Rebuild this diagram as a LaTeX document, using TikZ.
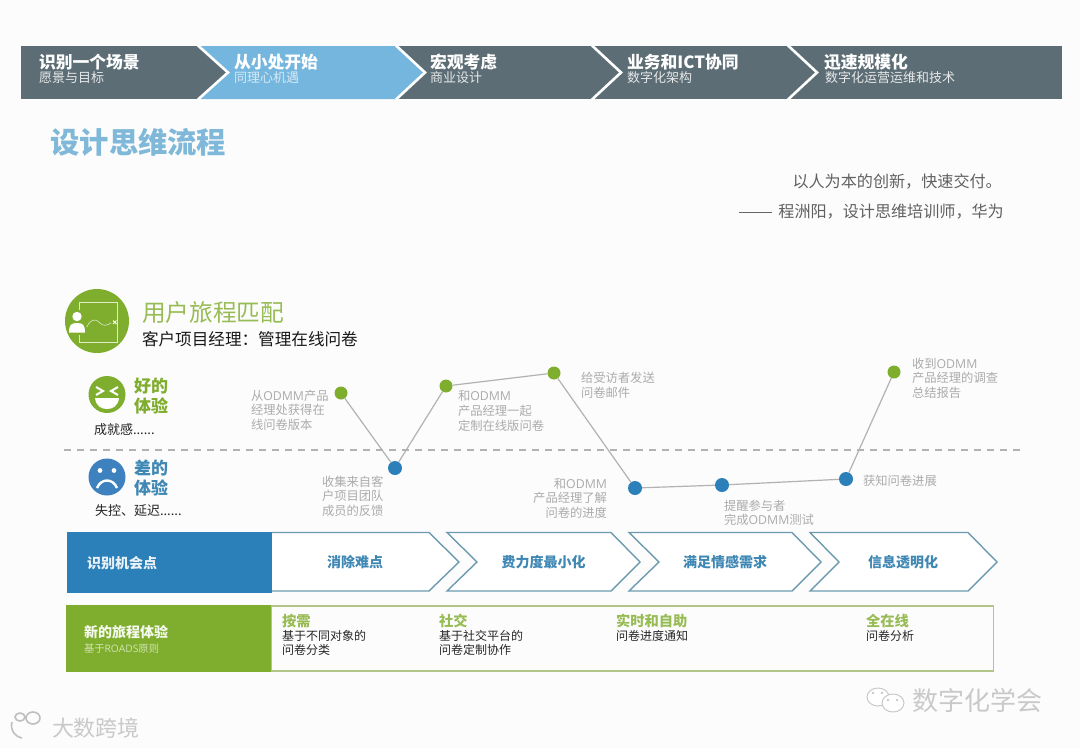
\documentclass[tikz,border=0pt]{standalone}
\usepackage{fontspec}
\setmainfont{Noto Sans CJK SC}
\newfontfamily\lat{Open Sans}
\usetikzlibrary{calc}
\definecolor{hdr}{HTML}{5C6D75}
\definecolor{hblue}{HTML}{74B6DE}
\definecolor{ttl}{HTML}{7FB8D8}
\definecolor{grn}{HTML}{7FAE2E}
\definecolor{grnt}{HTML}{98BC55}
\definecolor{blu}{HTML}{2B80B9}
\definecolor{blut}{HTML}{3F88B4}
\definecolor{sadc}{HTML}{3D82BE}
\definecolor{lab}{HTML}{ABABAB}
\definecolor{edg}{HTML}{6C9BAF}
\definecolor{frm}{HTML}{B0C587}
\definecolor{wm}{HTML}{C9C9C9}
\tikzset{
 txt/.style={inner sep=0pt,outer sep=0pt,anchor=west,align=left},
 htitle/.style={txt,text=white,font=\fontsize{16.8}{18}\selectfont\bfseries},
 hsub/.style={txt,text=white!85!hdr,font=\fontsize{13}{15}\selectfont},
 sep/.style={draw=white,line width=2.6pt,line join=miter},
 lbl/.style={txt,text=lab,font=\fontsize{12.3}{14.6}\selectfont},
 lblr/.style={lbl,anchor=east,align=right},
 dotg/.style={circle,fill=grn,draw=none,minimum size=13pt,inner sep=0pt},
 dotb/.style={circle,fill=blu,draw=none,minimum size=14pt,inner sep=0pt},
 jline/.style={draw=black!30,line width=1.2pt},
 chev/.style={draw=edg,line width=1.4pt,fill=white,line join=miter},
 chevt/.style={inner sep=0pt,text=blut,font=\fontsize{14}{16}\selectfont\bfseries},
 gh/.style={txt,text=grnt,font=\fontsize{14.3}{16}\selectfont\bfseries},
 gb/.style={txt,text=black!85,font=\fontsize{12}{14.5}\selectfont},
 feel/.style={txt,font=\fontsize{17}{20.5}\selectfont\bfseries},
 feelb/.style={txt,text=black!85,font=\fontsize{13}{15}\selectfont},
 quote/.style={inner sep=0pt,anchor=east,text=black!62,font=\fontsize{16.1}{18}\selectfont},
}
\begin{document}
\begin{tikzpicture}[x=1pt,y=-1pt]
\useasboundingbox (0,0) rectangle (1080,748);
\fill[white!99!black] (0,0) rectangle (1080,748);
% header
\fill[hdr] (21,46) rectangle (1062,99);
\fill[hblue] (199,46) -- (397,46) -- (425,72.5) -- (397,99) -- (199,99) -- (228,72.5) -- cycle;
\foreach \a/\b in {198/228,396/425,592/621,788/817}
  \draw[sep] (\a,45.5) -- (\b,72.5) -- (\a,99.5);
\node[htitle] (h1) at (39,62) {识别一个场景};
\node[hsub] (s1) at (39,78) {愿景与目标};
\node[htitle] (h2) at (234,62) {从小处开始};
\node[hsub,text=white!70!hblue] (s2) at (234,78) {同理心机遇};
\node[htitle] (h3) at (430,62) {宏观考虑};
\node[hsub] (s3) at (430,78) {商业设计};
\node[htitle] (h4) at (627,62) {业务和ICT协同};
\node[hsub] (s4) at (627,78) {数字化架构};
\node[htitle] (h5) at (824,62) {迅速规模化};
\node[hsub] (s5) at (825,78) {数字化运营运维和技术};
% title + quote
\node[txt,text=ttl,font=\fontsize{29.3}{32}\selectfont\bfseries] (title) at (50.5,142) {设计思维流程};
\node[quote] (q1) at (1002,182) {以人为本的创新，快速交付。};
\node[quote] (q2) at (1004,212) {程洲阳，设计思维培训师，华为};
\coordinate (qa) at (739,212);
\coordinate (qb) at (772,212);
\draw[black!60,line width=0.9pt] (qa) -- (qb);
% journey icon
\fill[grn] (97,321) circle (32);
\draw[white!75!grn,line width=1pt] (79,310) -- (79,302) -- (117,302) -- (117,342) -- (79,342) -- (79,335);
\fill[white] (77,316.5) circle (4.7);
\fill[white] (69,332.5) .. controls (69,325) and (71,323) .. (77,323) .. controls (83,323) and (85,325) .. (85,332.5) -- cycle;
\draw[white!65!grn,line width=0.7pt] (87,327) .. controls (90,319) and (96,318) .. (100,323) .. controls (103,326.5) and (107,325.5) .. (111,323);
\draw[white,line width=1pt] (113,320.5) -- (116.5,324) (116.5,320.5) -- (113,324);
\node[txt,text=grnt,font=\fontsize{23.7}{26}\selectfont] (jt) at (142,312) {用户旅程匹配};
\node[txt,text=black!90,font=\fontsize{16.6}{19}\selectfont] (js) at (142,339) {客户项目经理：管理在线问卷};
% happy face
\fill[grn] (107,394.5) circle (18.5);
\draw[white,line width=2pt] (96,387) -- (103,391) -- (96,395) (118,387) -- (111,391) -- (118,395);
\fill[white] (95,398) -- (119,398) .. controls (118,406) and (113,409) .. (107,409) .. controls (101,409) and (96,406) .. (95,398) -- cycle;
\node[feel,text=grn] (good) at (134,396) {好的\\体验};
\node[feelb] (goodb) at (94,430) {成就感......};
% sad face
\fill[sadc] (107,477) circle (18.5);
\fill[white] (100,470.5) circle (2.4) (114,470.5) circle (2.4);
\draw[white,line width=2.4pt] (97,488) .. controls (101,478) and (113,478) .. (117,488);
\node[feel,text=blut] (bad) at (134,478) {差的\\体验};
\node[feelb] (badb) at (95,511) {失控、延迟......};
% divider
\coordinate (dl) at (64,450);
\coordinate (dr) at (1020,450);
\draw[black!30,line width=1.2pt,dash pattern=on 7pt off 6pt] (dl) -- (dr);
% journey
\node[dotg] (A) at (341,393) {};
\node[dotb] (B) at (395,468) {};
\node[dotg] (C) at (446,386) {};
\node[dotg] (D) at (554,373) {};
\node[dotb] (E) at (635,488) {};
\node[dotb] (F) at (722,485) {};
\node[dotb] (G) at (846,479) {};
\node[dotg] (H) at (894,372) {};
\draw[jline] (A) -- (B);
\draw[jline] (B) -- (C);
\draw[jline] (C) -- (D);
\draw[jline] (D) -- (E);
\draw[jline] (E) -- (F);
\draw[jline] (F) -- (G);
\draw[jline] (G) -- (H);
\node[lbl] (la) at (251,410) {从{\lat ODMM}产品\\经理处获得在\\线问卷版本};
\node[lbl] (lb) at (322,496) {收集来自客\\户项目团队\\成员的反馈};
\node[lbl] (lc) at (458,411) {和{\lat ODMM}\\产品经理一起\\定制在线版问卷};
\node[lbl] (ld) at (581,385) {给受访者发送\\问卷邮件};
\node[lblr] (le) at (607,498) {和{\lat ODMM}\\产品经理了解\\问卷的进度};
\node[lbl] (lf) at (724,513) {提醒参与者\\完成{\lat ODMM}测试};
\node[lbl] (lg) at (863,481) {获知问卷进展};
\node[lbl] (lh) at (912,378) {收到{\lat ODMM}\\产品经理的调查\\总结报告};
% opportunity row
\fill[blu] (67,532) rectangle (272,593);
\node[txt,text=white!90!blu,font=\fontsize{14}{16}\selectfont\bfseries] (op) at (87,563) {识别机会点};
\draw[chev] (272,532.5) -- (429,532.5) -- (459,562) -- (429,591) -- (272,591);
\draw[chev] (447,532.5) -- (611,532.5) -- (640,562) -- (611,591) -- (447,591) -- (477,562) -- cycle;
\draw[chev] (629,532.5) -- (792,532.5) -- (821,562) -- (792,591) -- (629,591) -- (659,562) -- cycle;
\draw[chev] (810,532.5) -- (968,532.5) -- (997,562) -- (968,591) -- (810,591) -- (839,562) -- cycle;
\node[chevt] (c1) at (355,562.5) {消除难点};
\node[chevt] (c2) at (543.5,562.5) {费力度最小化};
\node[chevt] (c3) at (725,562.5) {满足情感需求};
\node[chevt] (c4) at (903,562.5) {信息透明化};
% new experience row
\draw[frm,line width=1.4pt] (271,606) rectangle (993.5,671);
\fill[grn] (66,605) rectangle (271,672);
\node[txt,text=white!92!grn,font=\fontsize{14}{16}\selectfont\bfseries] (nx) at (84,632) {新的旅程体验};
\node[txt,text=white!65!grn,font=\fontsize{10.3}{12}\selectfont] (ns) at (84,649) {基于{\lat ROADS}原则};
\node[gh] (g1) at (282,621) {按需};
\node[gb,anchor=north west] (b1) at (282,630) {基于不同对象的\\问卷分类};
\node[gh] (g2) at (439,621) {社交};
\node[gb,anchor=north west] (b2) at (439,630) {基于社交平台的\\问卷定制协作};
\node[gh] (g3) at (616,621) {实时和自助};
\node[gb,anchor=north west] (b3) at (616,630) {问卷进度通知};
\node[gh] (g4) at (866,621) {全在线};
\node[gb,anchor=north west] (b4) at (866,630) {问卷分析};
% watermarks
\node[txt,text=wm,font=\fontsize{26}{28}\selectfont] (w1) at (912,701) {数字化学会};
\node[txt,text=wm,font=\fontsize{22}{24}\selectfont] (w2) at (52,728) {大数跨境};
\draw[wm,line width=1pt,fill=white] (878,697) circle (11 and 9);
\draw[wm,line width=1pt,fill=white] (893,703) circle (11 and 9);
\fill[wm] (888,700) circle (1.3) (897,700) circle (1.3) (873,693) circle (1.3) (882,693) circle (1.3);
\draw[white!75!black,line width=1.6pt] (20,717) circle (5 and 4) (33,718) circle (7 and 6);
\draw[white!75!black,line width=1.6pt] (12,722) .. controls (10,730) and (14,736) .. (22,738);
\end{tikzpicture}
\end{document}
